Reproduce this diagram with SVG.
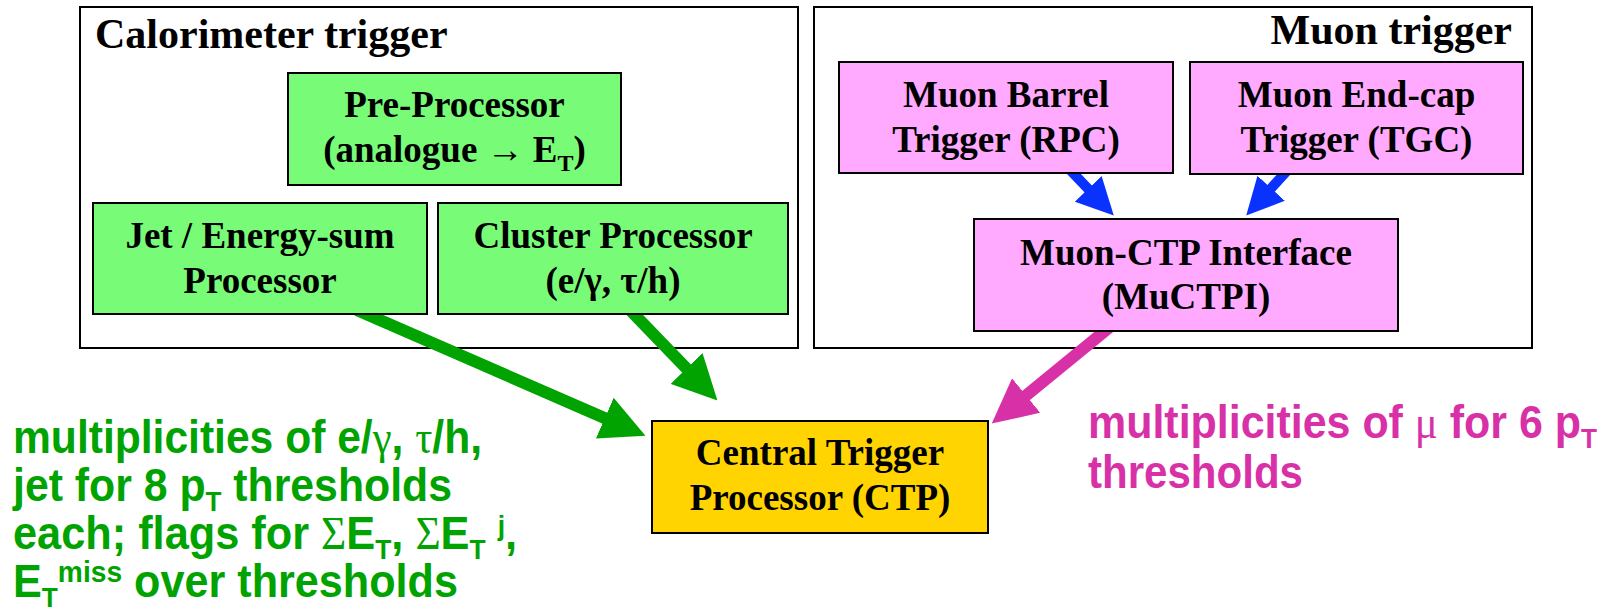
<svg xmlns="http://www.w3.org/2000/svg" width="1608" height="612" viewBox="0 0 1608 612">
<style>
.bg{fill:#fff}
.cont{fill:none;stroke:#000;stroke-width:2}
.box{stroke:#000;stroke-width:2}
.gbox{fill:#78FC78}
.pbox{fill:#FFAAFF}
.ybox{fill:#FFD400}
.t{font-family:"Liberation Serif","Times New Roman",serif;font-weight:bold;font-size:37px;text-anchor:middle;fill:#000}
.title{font-family:"Liberation Serif","Times New Roman",serif;font-weight:bold;font-size:42px;fill:#000}
.sub{font-size:24px}
.lbl{font-family:"Liberation Sans",Arial,sans-serif;font-weight:bold;font-size:46px}
.green{fill:#00A300}
.mag{fill:#D831A8}
.gr{font-family:"Liberation Serif","Times New Roman",serif;font-weight:normal}
.ls{font-size:28px}
.lsup{font-size:30px}
.ag{stroke:#00A300;stroke-width:12;fill:none}
.am{stroke:#D831A8;stroke-width:12;fill:none}
.ab{stroke:#0A32FF;stroke-width:10;fill:none}
</style>
<defs>
<marker id="hg" viewBox="0 0 10 10" refX="0.5" refY="5" markerWidth="3.7" markerHeight="3.7" orient="auto" markerUnits="strokeWidth"><path d="M0,0 L10,5 L0,10 z" fill="#00A300"/></marker>
<marker id="hm" viewBox="0 0 10 10" refX="0.5" refY="5" markerWidth="3.7" markerHeight="3.7" orient="auto" markerUnits="strokeWidth"><path d="M0,0 L10,5 L0,10 z" fill="#D831A8"/></marker>
<marker id="hb" viewBox="0 0 10 10" refX="0.5" refY="5" markerWidth="3.7" markerHeight="3.7" orient="auto" markerUnits="strokeWidth"><path d="M0,0 L10,5 L0,10 z" fill="#0A32FF"/></marker>
</defs>
<rect class="bg" x="0" y="0" width="1608" height="612"/>
<g id="calorimeter-trigger">
<rect class="cont" x="80" y="7" width="718" height="341"/>
<text class="title" x="95" y="48">Calorimeter trigger</text>
</g>
<g id="muon-trigger">
<rect class="cont" x="814" y="7" width="718" height="341"/>
<text class="title" x="1512" y="44" text-anchor="end">Muon trigger</text>
</g>
<g id="connectors">
<line class="ag" x1="356.8" y1="310" x2="606.8" y2="419" marker-end="url(#hg)"/>
<line class="ag" x1="627" y1="306.8" x2="688.1" y2="370.1" marker-end="url(#hg)"/>
<line class="am" x1="1112.7" y1="324.7" x2="1024.4" y2="396.9" marker-end="url(#hm)"/>
<line class="ab" x1="1067.5" y1="167.2" x2="1089.5" y2="190.2" marker-end="url(#hb)"/>
<line class="ab" x1="1290.4" y1="167.1" x2="1269.9" y2="189.6" marker-end="url(#hb)"/>
</g>
<g id="pre-processor">
<rect class="box gbox" x="288" y="73" width="333" height="112"/>
<text class="t" x="454.5" y="117">Pre-Processor</text>
<text class="t" x="454.5" y="162">(analogue → E<tspan class="sub" dy="9">T</tspan><tspan dy="-9">)</tspan></text>
</g>
<g id="jet-energy-sum">
<rect class="box gbox" x="93" y="203" width="334" height="111"/>
<text class="t" x="260" y="248">Jet / Energy-sum</text>
<text class="t" x="260" y="293">Processor</text>
</g>
<g id="cluster-processor">
<rect class="box gbox" x="438" y="203" width="350" height="111"/>
<text class="t" x="613" y="248">Cluster Processor</text>
<text class="t" x="613" y="293">(e/γ, τ/h)</text>
</g>
<g id="muon-barrel">
<rect class="box pbox" x="839" y="62" width="334" height="111"/>
<text class="t" x="1006" y="107">Muon Barrel</text>
<text class="t" x="1006" y="152">Trigger (RPC)</text>
</g>
<g id="muon-endcap">
<rect class="box pbox" x="1190" y="62" width="333" height="112"/>
<text class="t" x="1356.5" y="107">Muon End-cap</text>
<text class="t" x="1356.5" y="152">Trigger (TGC)</text>
</g>
<g id="muctpi">
<rect class="box pbox" x="974" y="219" width="424" height="112"/>
<text class="t" x="1186" y="265">Muon-CTP Interface</text>
<text class="t" x="1186" y="309">(MuCTPI)</text>
</g>
<g id="ctp">
<rect class="box ybox" x="652" y="421" width="336" height="112"/>
<text class="t" x="820" y="465">Central Trigger</text>
<text class="t" x="820" y="510">Processor (CTP)</text>
</g>
<g id="calo-label" class="lbl green">
<text x="13" y="453" textLength="469" lengthAdjust="spacingAndGlyphs">multiplicities of e/<tspan class="gr">γ</tspan>, <tspan class="gr">τ</tspan>/h,</text>
<text x="13" y="501" textLength="439" lengthAdjust="spacingAndGlyphs">jet for 8 p<tspan class="ls" dy="10">T</tspan><tspan dy="-10"> thresholds</tspan></text>
<text x="13" y="549" textLength="504" lengthAdjust="spacingAndGlyphs">each; flags for <tspan class="gr">Σ</tspan>E<tspan class="ls" dy="10">T</tspan><tspan dy="-10">, </tspan><tspan class="gr">Σ</tspan>E<tspan class="ls" dy="10">T</tspan><tspan dy="-10"> </tspan><tspan class="ls" dy="-14">j</tspan><tspan dy="14">,</tspan></text>
<text x="13" y="597" textLength="445" lengthAdjust="spacingAndGlyphs">E<tspan class="ls" dy="10">T</tspan><tspan class="lsup" dy="-25">miss</tspan><tspan dy="15"> over thresholds</tspan></text>
</g>
<g id="muon-label" class="lbl mag">
<text x="1088" y="438" textLength="509" lengthAdjust="spacingAndGlyphs">multiplicities of <tspan class="gr">μ</tspan> for 6 p<tspan class="ls" dy="10">T</tspan></text>
<text x="1088" y="488" textLength="215" lengthAdjust="spacingAndGlyphs">thresholds</text>
</g>
</svg>
